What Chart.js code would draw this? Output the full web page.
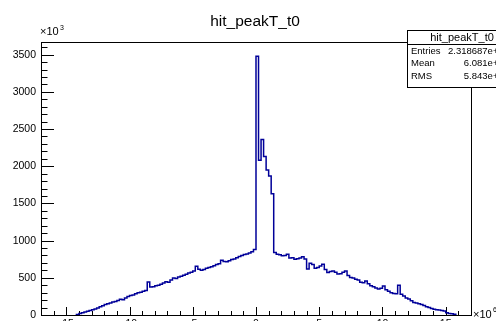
<!DOCTYPE html>
<html>
<head>
<meta charset="utf-8">
<title>hit_peakT_t0</title>
<script src="https://cdn.jsdelivr.net/npm/chart.js@4.4.1/dist/chart.umd.min.js"></script>
<style>
  html, body { margin: 0; padding: 0; background: #fff; overflow: hidden; }
  #wrap { width: 496px; height: 340px; }
</style>
</head>
<body>
<div id="wrap"><canvas id="histo" width="496" height="340"></canvas></div>
<script>
// histogram content (x in units of 10^6, y in units of 10^3)
const histTitle = 'hit_peakT_t0';
const binStart = -14.2;
const binWidth = 0.2;
const counts = [
  8, 20, 30, 42, 50, 62, 70, 82, 95, 110,
  125, 140, 150, 160, 175, 182, 195, 212, 205, 228,
  250, 262, 270, 285, 298, 305, 318, 328, 445, 375,
  380, 392, 400, 412, 430, 448, 440, 470, 498, 490,
  512, 522, 535, 548, 566, 575, 590, 655, 615, 600,
  612, 628, 638, 650, 662, 680, 690, 735, 720, 715,
  730, 745, 752, 770, 785, 800, 812, 820, 835, 850,
  880,
  3480, 2080, 2360, 2130, 1950, 1870, 1630, 840, 818, 810,
  795, 800, 815, 765, 770, 748, 755, 765, 782, 752,
  620, 695, 680, 630, 640, 660, 682, 610, 572, 585,
  590, 575, 550, 555, 575, 592, 530, 505, 498, 482,
  470, 440, 435, 458, 420, 392, 380, 362, 348, 360,
  390, 340, 320, 300, 288, 285, 400, 278, 255, 230,
  215, 190, 168, 160, 150, 142, 128, 110, 100, 88,
  78, 72, 66, 62, 55, 30, 20, 18, 10
];

const xTicks = [-15, -10, -5, 0, 5, 10, 15];
const yTicks = [0, 500, 1000, 1500, 2000, 2500, 3000, 3500];
const xMinorStep = 1;
const yMinorStep = 100;
const xRange = [-17, 17];
const yRange = [0, 3670];

const statLabels = ['Entries', 'Mean', 'RMS'];
const statValues = ['2.318687e+07', '6.081e+05', '5.843e+06'];

const FONT = "'Liberation Sans', Arial, Helvetica, sans-serif";

// step outline like ROOT draws it
const points = [{ x: binStart, y: 0 }];
counts.forEach((c, i) => points.push({ x: binStart + i * binWidth, y: c }));
points.push({ x: binStart + counts.length * binWidth, y: 0 });

const rootFrame = {
  id: 'rootFrame',
  beforeDatasetsDraw(chart) {
    const { ctx, chartArea: a, scales: { x, y } } = chart;
    ctx.save();
    ctx.strokeStyle = '#000';
    ctx.lineWidth = 1;
    ctx.strokeRect(a.left + 0.5, a.top + 0.5, a.right - a.left, a.bottom - a.top);

    // ticks point inside the frame
    ctx.beginPath();
    for (let v = Math.ceil(x.min); v <= x.max; v += xMinorStep) {
      const px = Math.round(x.getPixelForValue(v)) + 0.5;
      const len = xTicks.includes(v) ? 8 : 4;
      ctx.moveTo(px, a.bottom);
      ctx.lineTo(px, a.bottom - len);
    }
    for (let v = 0; v <= y.max; v += yMinorStep) {
      const py = Math.round(y.getPixelForValue(v)) + 0.5;
      const len = yTicks.includes(v) ? 13 : 6.5;
      ctx.moveTo(a.left, py);
      ctx.lineTo(a.left + len, py);
    }
    ctx.stroke();
    ctx.restore();
  },
  afterDraw(chart) {
    const { ctx, chartArea: a } = chart;
    ctx.save();
    ctx.fillStyle = '#000';

    // title
    ctx.font = '15.5px ' + FONT;
    ctx.textAlign = 'center';
    ctx.textBaseline = 'middle';
    ctx.fillText(histTitle, 255, 21.5);

    // axis exponents
    ctx.textAlign = 'left';
    ctx.textBaseline = 'alphabetic';
    ctx.font = '11px ' + FONT;
    ctx.fillText('\u00d710', a.left - 1, 35);
    ctx.font = '7px ' + FONT;
    ctx.fillText('3', a.left + 19, 30);
    ctx.font = '11px ' + FONT;
    ctx.fillText('\u00d710', a.right + 2, 318);
    ctx.font = '7px ' + FONT;
    ctx.fillText('6', a.right + 22, 312);

    // stats box
    const bx = 407, by = 30, bw = 110, bh = 57, hh = 14;
    ctx.fillStyle = '#fff';
    ctx.fillRect(bx, by, bw, bh);
    ctx.strokeStyle = '#000';
    ctx.lineWidth = 1;
    ctx.strokeRect(bx + 0.5, by + 0.5, bw, bh);
    ctx.beginPath();
    ctx.moveTo(bx, by + hh + 0.5);
    ctx.lineTo(bx + bw, by + hh + 0.5);
    ctx.stroke();

    ctx.fillStyle = '#000';
    ctx.font = '11px ' + FONT;
    ctx.textAlign = 'center';
    ctx.textBaseline = 'middle';
    ctx.fillText(histTitle, 462, by + 7.5);

    ctx.font = '9.5px ' + FONT;
    statLabels.forEach((lab, i) => {
      const ty = by + hh + 7 + i * 12.7;
      ctx.textAlign = 'left';
      ctx.fillText(lab, bx + 4, ty);
      ctx.textAlign = 'right';
      ctx.fillText(statValues[i], 509, ty);
    });
    ctx.restore();
  }
};

new Chart(document.getElementById('histo').getContext('2d'), {
  type: 'line',
  data: {
    datasets: [{
      label: histTitle,
      data: points,
      stepped: true,
      borderColor: '#000099',
      borderWidth: 1.5,
      pointRadius: 0,
      fill: false,
      tension: 0
    }]
  },
  options: {
    responsive: false,
    animation: false,
    devicePixelRatio: 1,
    layout: { padding: { top: 42, right: 25, left: 0, bottom: 0 } },
    plugins: {
      legend: { display: false },
      title: { display: false },
      tooltip: { enabled: false }
    },
    scales: {
      x: {
        type: 'linear',
        min: xRange[0],
        max: xRange[1],
        grid: { display: false, drawTicks: false },
        border: { display: false },
        afterBuildTicks: s => { s.ticks = xTicks.map(v => ({ value: v })); },
        afterFit: s => { s.height = 25; },
        ticks: {
          autoSkip: false,
          maxRotation: 0,
          padding: 3,
          color: '#000',
          font: { family: FONT, size: 10.5 },
          callback: v => String(v)
        }
      },
      y: {
        min: yRange[0],
        max: yRange[1],
        grid: { display: false, drawTicks: false },
        border: { display: false },
        afterBuildTicks: s => { s.ticks = yTicks.map(v => ({ value: v })); },
        afterFit: s => { s.width = 41; },
        ticks: {
          padding: 5,
          color: '#000',
          font: { family: FONT, size: 10.5 },
          callback: v => String(v)
        }
      }
    }
  },
  plugins: [rootFrame]
});
</script>
</body>
</html>
